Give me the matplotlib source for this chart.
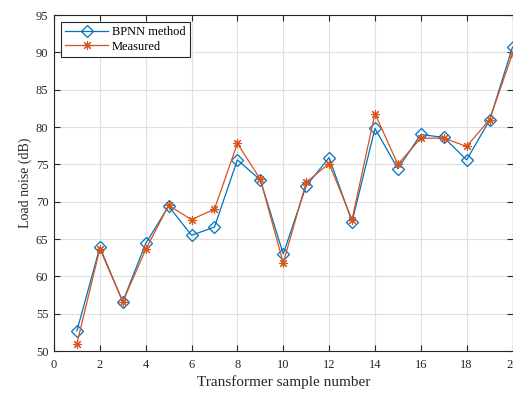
import matplotlib
matplotlib.use("Agg")
import matplotlib.pyplot as plt
import numpy as np

samples = list(range(1, 21))
bpnn = [52.7, 63.9, 56.6, 64.4, 69.4, 65.5, 66.6, 75.6, 72.9, 63.0,
        72.1, 75.9, 67.3, 79.8, 74.4, 79.0, 78.6, 75.6, 80.9, 90.7]
measured = [51.0, 63.7, 56.6, 63.6, 69.5, 67.6, 69.0, 77.8, 73.0, 61.8,
            72.6, 75.1, 67.6, 81.8, 75.0, 78.5, 78.5, 77.4, 81.0, 89.8]
xticks = list(range(0, 21, 2))
yticks = list(range(50, 96, 5))

plt.rcParams['font.family'] = ['Liberation Serif', 'DejaVu Serif']
plt.rcParams['mathtext.fontset'] = 'stix'

blue = '#0072BD'
orange = '#D95319'

fig = plt.figure(figsize=(5.13, 3.94), dpi=100)
ax = fig.add_axes([54/513, 1 - 351/394, (512.5 - 54)/513, (351 - 15)/394])

ax.plot(samples, bpnn, color=blue, lw=0.9, marker='D', ms=6.3,
        mfc='none', mec=blue, mew=0.9, label='BPNN method', clip_on=False, zorder=3)
ax.plot(samples, measured, color=orange, lw=0.9, marker=(8, 2, 0), ms=6.5,
        mec=orange, mew=0.8, label='Measured', clip_on=False, zorder=4)

ax.set_xlim(0, 20)
ax.set_ylim(50, 95)
ax.set_xticks(xticks)
ax.set_yticks(yticks)
ax.tick_params(direction='in', length=4, width=0.8, top=True, right=True,
               labelsize=9, colors='#262626')
ax.tick_params(axis='x', pad=6)
ax.tick_params(axis='y', pad=4)
ax.grid(True, color='#dfdfdf', lw=0.8)
ax.set_axisbelow(True)
for s in ax.spines.values():
    s.set_color('#262626')
    s.set_linewidth(0.8)

ax.set_xlabel('Transformer sample number', fontsize=11, color='#262626', labelpad=3)
ax.set_ylabel('Load noise (dB)', fontsize=10, color='#262626', labelpad=3)

leg = ax.legend(loc='upper left', fontsize=9, frameon=True, fancybox=False,
                edgecolor='#262626', framealpha=1, handlelength=3.4,
                borderaxespad=0.55, borderpad=0.35, labelspacing=0.2, handletextpad=0.3)
leg.get_frame().set_linewidth(0.8)

fig.savefig('out.png', dpi=100)
